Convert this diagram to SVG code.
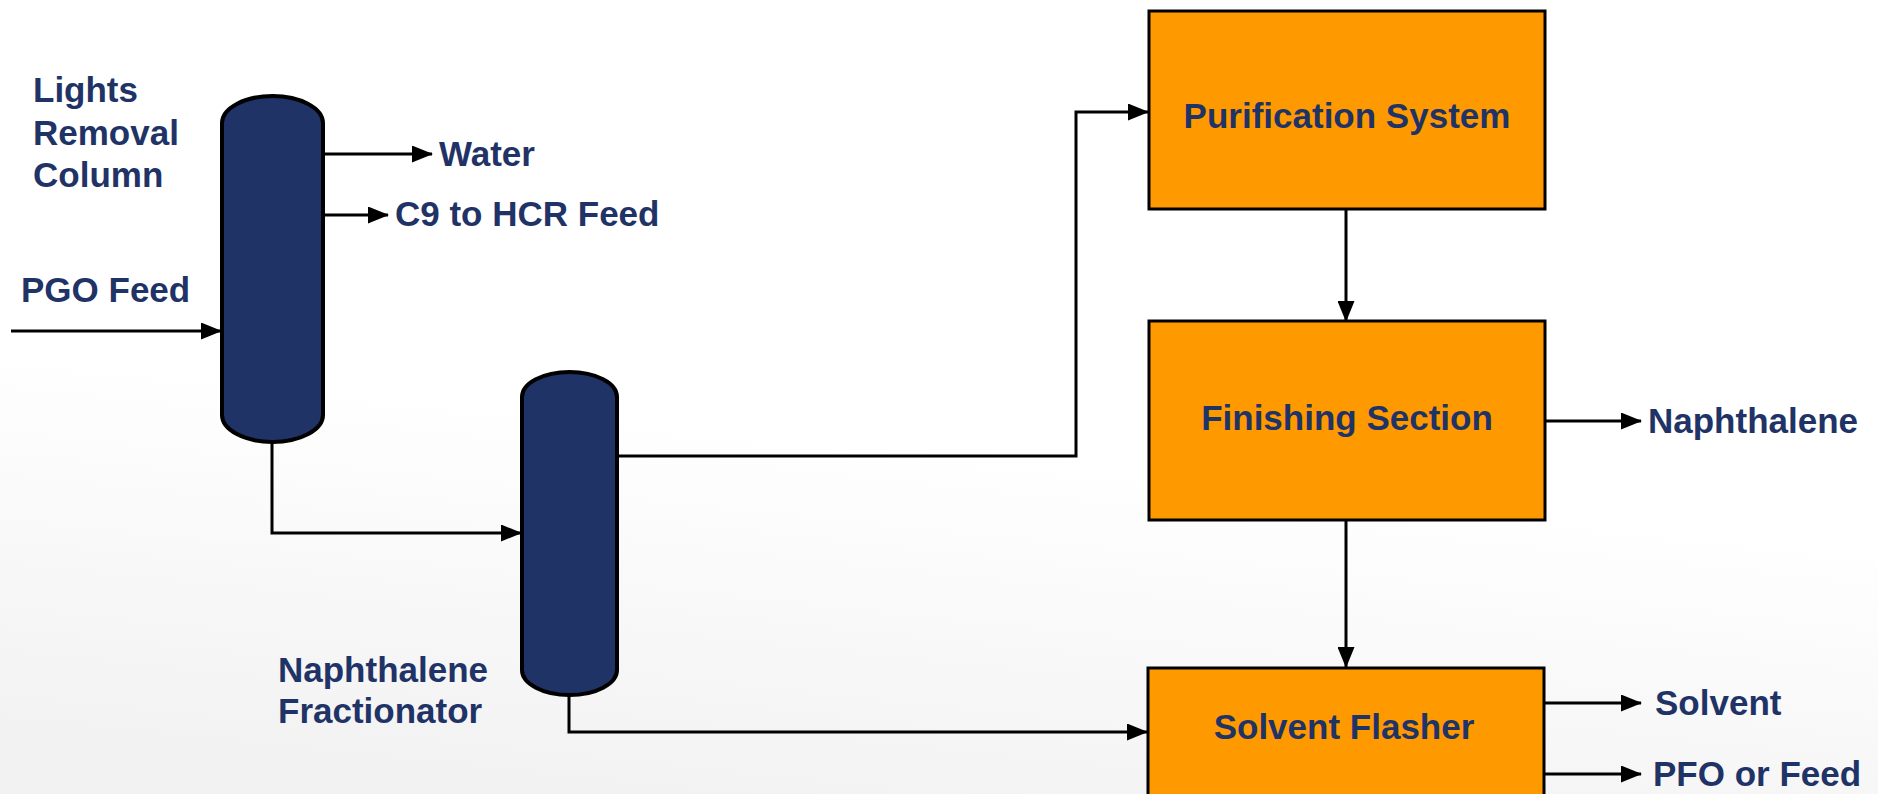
<svg xmlns="http://www.w3.org/2000/svg" width="1878" height="794" viewBox="0 0 1878 794">
  <defs>
    <linearGradient id="bg" x1="0.6" y1="0" x2="0.35" y2="1">
      <stop offset="0" stop-color="#ffffff"/>
      <stop offset="0.55" stop-color="#ffffff"/>
      <stop offset="1" stop-color="#f2f2f2"/>
    </linearGradient>
    <marker id="arrow" markerUnits="userSpaceOnUse" markerWidth="21" markerHeight="17" refX="20" refY="8.5" orient="auto">
      <path d="M0,0 L21,8.5 L0,17 Z" fill="#000"/>
    </marker>
    <style>
      .lbl { font-family: "Liberation Sans", Arial, sans-serif; font-weight: bold; font-size: 35px; fill: #1f3366; }
      .mid { text-anchor: middle; }
      .column { fill: #1f3366; stroke: #000; stroke-width: 4; }
      .unit { fill: #ff9900; stroke: #000; stroke-width: 3; }
      .flow { fill: none; stroke: #000; stroke-width: 3; }
      .flow.arrowed { marker-end: url(#arrow); }
    </style>
  </defs>

  <rect x="0" y="0" width="1878" height="794" fill="url(#bg)"/>

  <!-- connectors -->
  <g id="connectors">
    <path class="flow arrowed" d="M11,331 H221"/>
    <path class="flow arrowed" d="M323,154 H432"/>
    <path class="flow arrowed" d="M323,215 H388"/>
    <path class="flow arrowed" d="M272,442 V533 H521"/>
    <path class="flow arrowed" d="M617,456 H1076 V112 H1148"/>
    <path class="flow arrowed" d="M1346,209 V321"/>
    <path class="flow arrowed" d="M1545,421 H1641"/>
    <path class="flow arrowed" d="M1346,520 V667"/>
    <path class="flow arrowed" d="M569,695 V732 H1147"/>
    <path class="flow arrowed" d="M1544,703 H1641"/>
    <path class="flow arrowed" d="M1544,774 H1641"/>
  </g>

  <!-- lights removal column -->
  <g id="lights-removal-column">
    <path class="column" d="M222,123 A50.5,27 0 0 1 323,123 V415 A50.5,27 0 0 1 222,415 Z"/>
    <text class="lbl" x="33" y="102">Lights</text>
    <text class="lbl" x="33" y="145">Removal</text>
    <text class="lbl" x="33" y="187">Column</text>
  </g>

  <!-- naphthalene fractionator -->
  <g id="naphthalene-fractionator">
    <path class="column" d="M522,397 A47.5,25 0 0 1 617,397 V670 A47.5,25 0 0 1 522,670 Z"/>
    <text class="lbl" x="278" y="682">Naphthalene</text>
    <text class="lbl" x="278" y="723">Fractionator</text>
  </g>

  <!-- process units -->
  <g id="purification-system">
    <rect class="unit" x="1149" y="11" width="396" height="198"/>
    <text class="lbl mid" x="1347" y="128">Purification System</text>
  </g>

  <g id="finishing-section">
    <rect class="unit" x="1149" y="321" width="396" height="199"/>
    <text class="lbl mid" x="1347" y="430">Finishing Section</text>
  </g>

  <g id="solvent-flasher">
    <rect class="unit" x="1148" y="668" width="396" height="200"/>
    <text class="lbl mid" x="1344" y="739">Solvent Flasher</text>
  </g>

  <!-- stream labels -->
  <g id="streams">
    <text class="lbl" x="21" y="302">PGO Feed</text>
    <text class="lbl" x="439" y="166">Water</text>
    <text class="lbl" x="395" y="226">C9 to HCR Feed</text>
    <text class="lbl" x="1648" y="433">Naphthalene</text>
    <text class="lbl" x="1655" y="715">Solvent</text>
    <text class="lbl" x="1653" y="786">PFO or Feed</text>
  </g>
</svg>
